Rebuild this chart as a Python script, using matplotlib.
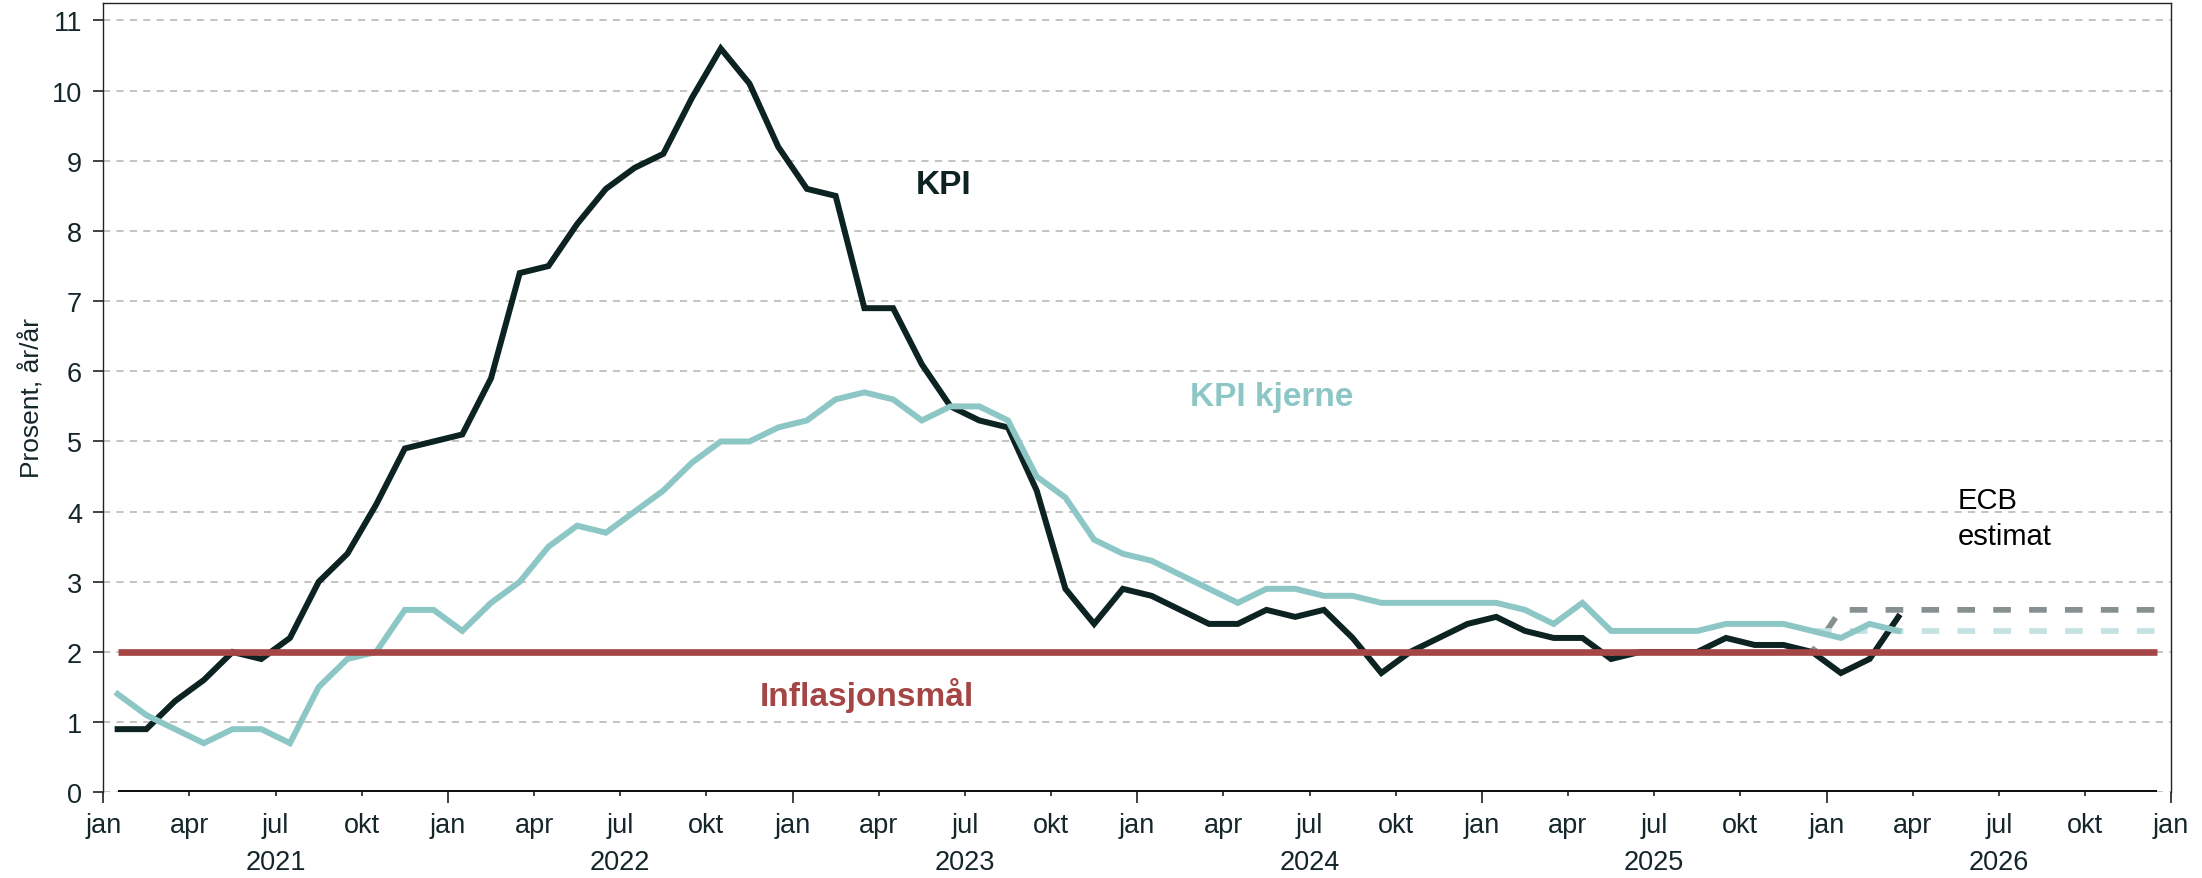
import numpy as np
import matplotlib
matplotlib.use("Agg")
import matplotlib.pyplot as plt
import matplotlib.transforms as mtransforms
from matplotlib.ticker import FixedLocator, FixedFormatter, NullFormatter

plt.rcParams['font.family'] = ['Liberation Sans', 'DejaVu Sans']

# monthly data, jan 2021 - mar 2026 (percent, y/y)
kpi = [0.9, 0.9, 1.3, 1.6, 2.0, 1.9, 2.2, 3.0, 3.4, 4.1, 4.9, 5.0,
       5.1, 5.9, 7.4, 7.5, 8.1, 8.6, 8.9, 9.1, 9.9, 10.6, 10.1, 9.2,
       8.6, 8.5, 6.9, 6.9, 6.1, 5.5, 5.3, 5.2, 4.3, 2.9, 2.4, 2.9,
       2.8, 2.6, 2.4, 2.4, 2.6, 2.5, 2.6, 2.2, 1.7, 2.0, 2.2, 2.4,
       2.5, 2.3, 2.2, 2.2, 1.9, 2.0, 2.0, 2.0, 2.2, 2.1, 2.1, 2.0,
       1.7, 1.9, 2.5]
kpi_kjerne = [1.4, 1.1, 0.9, 0.7, 0.9, 0.9, 0.7, 1.5, 1.9, 2.0, 2.6, 2.6,
              2.3, 2.7, 3.0, 3.5, 3.8, 3.7, 4.0, 4.3, 4.7, 5.0, 5.0, 5.2,
              5.3, 5.6, 5.7, 5.6, 5.3, 5.5, 5.5, 5.3, 4.5, 4.2, 3.6, 3.4,
              3.3, 3.1, 2.9, 2.7, 2.9, 2.9, 2.8, 2.8, 2.7, 2.7, 2.7, 2.7,
              2.7, 2.6, 2.4, 2.7, 2.3, 2.3, 2.3, 2.3, 2.4, 2.4, 2.4, 2.3,
              2.2, 2.4, 2.3]

# ECB estimate, dec 2025 - dec 2026
ecb_kpi = [2.0, 2.6, 2.6, 2.6, 2.6, 2.6, 2.6, 2.6, 2.6, 2.6, 2.6, 2.6, 2.6]
ecb_kjerne = [2.3, 2.3, 2.3, 2.3, 2.3, 2.3, 2.3, 2.3, 2.3, 2.3, 2.3, 2.3, 2.3]
ecb_start = 59  # month index of dec 2025

inflasjonsmaal = 2.0
years = [2021, 2022, 2023, 2024, 2025, 2026]
kvartal = ['jan', 'apr', 'jul', 'okt']

n_months = 12 * len(years)
x_all = np.arange(n_months) + 0.5
x_kpi = np.arange(len(kpi)) + 0.5
x_ecb = ecb_start + np.arange(len(ecb_kpi)) + 0.5

c_kpi = '#0c2321'
c_kjerne = '#8cc7c5'
c_red = '#a54646'
c_ecb_kpi = '#879090'
c_ecb_kjerne = '#c4e2e1'
c_text = '#15262a'

fig = plt.figure(figsize=(22.02, 8.79), dpi=100)
ax = fig.add_axes([0.0469, 0.0975, 0.9391, 0.8980])

# zero line along the data period
ax.plot(x_all, np.zeros(n_months), color='#111111', lw=2.9, zorder=2,
        solid_capstyle='butt')

# estimates
ax.plot(x_ecb, ecb_kpi, color=c_ecb_kpi, lw=4.1, ls=(2.1, (3.1, 3.2)), zorder=2)
ax.plot(x_ecb, ecb_kjerne, color=c_ecb_kjerne, lw=4.1, ls=(5.95, (3.1, 3.2)), zorder=2)

ax.plot(x_kpi, kpi, color=c_kpi, lw=4.3, zorder=3, solid_joinstyle='miter')
ax.plot(x_kpi, kpi_kjerne, color=c_kjerne, lw=4.3, zorder=4, solid_joinstyle='miter')

# inflation target
ax.plot(x_all, np.full(n_months, inflasjonsmaal), color=c_red, lw=4.8, zorder=5,
        solid_capstyle='butt')

ax.set_xlim(0, n_months)
ax.set_ylim(0, 11.25)

# grid
ax.set_yticks(range(0, 12))
ax.yaxis.grid(True, color='#c3c3c3', lw=1.4, ls=(0, (3.7, 3.2)))
ax.set_axisbelow(True)

# x ticks: short quarterly ticks with labels, long ticks at january
q_pos = np.arange(0, n_months + 1, 3)
q_lab = [kvartal[i % 4] for i in range(len(q_pos))]
ax.xaxis.set_major_locator(FixedLocator(q_pos))
ax.xaxis.set_major_formatter(FixedFormatter(q_lab))
ax.xaxis.set_minor_locator(FixedLocator(np.arange(0, n_months + 1, 12)))
ax.xaxis.set_minor_formatter(NullFormatter())
ax.xaxis.remove_overlapping_locs = False
ax.tick_params(axis='x', which='major', length=3.2, width=1.4, color='#404040',
               pad=11, labelsize=19.5, labelcolor=c_text)
ax.tick_params(axis='x', which='minor', length=7.9, width=1.4, color='#404040')
ax.tick_params(axis='y', which='major', length=7.2, width=1.4, color='#404040',
               pad=8, labelsize=19.5, labelcolor=c_text)

trans = mtransforms.blended_transform_factory(ax.transData, ax.transAxes)
for i, yr in enumerate(years):
    ax.text(12 * i + 6, -0.0972, str(yr), transform=trans, ha='center',
            va='baseline', fontsize=19.5, color=c_text)

ax.spines['bottom'].set_visible(False)
for s in ['left', 'top', 'right']:
    ax.spines[s].set_linewidth(1.0)
    ax.spines[s].set_color('#222222')

fig.text(0.0144, 0.5472, 'Prosent, år/år', rotation=90, ha='center', va='center',
         fontsize=19, color=c_text)

# labels in the chart
ax.text(29.24, 8.544, 'KPI', ha='center', va='baseline', fontsize=24,
        fontweight='bold', color=c_kpi)
ax.text(40.69, 5.526, 'KPI kjerne', ha='center', va='baseline', fontsize=24,
        fontweight='bold', color=c_kjerne)
ax.text(26.58, 1.244, 'Inflasjonsmål', ha='center', va='baseline', fontsize=24,
        fontweight='bold', color=c_red)
ax.text(64.58, 4.049, 'ECB', ha='left', va='baseline', fontsize=21, color='black')
ax.text(64.58, 3.540, 'estimat', ha='left', va='baseline', fontsize=21, color='black')

fig.savefig('out.png', dpi=100)
